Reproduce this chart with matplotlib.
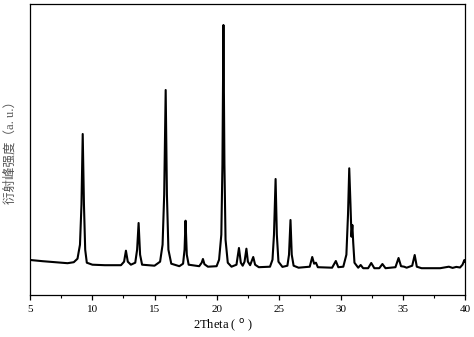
import matplotlib

matplotlib.use("Agg")
import matplotlib.pyplot as plt

# XRD trace, vertices (2theta in degrees, intensity a.u.)
two_theta = [
    5.0, 6.0, 7.0, 8.0, 8.5, 8.8, 9.0, 9.12, 9.22, 9.32, 9.42, 9.55,
    10.0, 11.0, 12.3, 12.55, 12.7, 12.85, 13.1, 13.45, 13.6, 13.72, 13.84,
    14.0, 15.0, 15.45, 15.65, 15.78, 15.9, 16.0, 16.12, 16.35, 17.0, 17.3,
    17.42, 17.5, 17.6, 17.75, 18.6, 18.8, 18.9, 19.02, 19.3, 20.0, 20.2,
    20.38, 20.47, 20.55, 20.63, 20.72, 20.9, 21.2, 21.6, 21.8, 21.95, 22.1,
    22.25, 22.4, 22.52, 22.7, 22.95, 23.1, 23.4, 24.3, 24.5, 24.62, 24.75,
    24.85, 24.98, 25.3, 25.7, 25.83, 25.95, 26.05, 26.2, 26.6, 27.5, 27.7,
    27.85, 28.0, 28.15, 29.3, 29.6, 29.8, 30.2, 30.45, 30.58, 30.68, 30.78,
    30.86, 30.93, 31.0, 31.1, 31.4, 31.6, 31.8, 32.2, 32.45, 32.7, 33.1,
    33.35, 33.6, 34.4, 34.65, 34.85, 35.1, 35.3, 35.75, 35.95, 36.12, 36.5,
    38.0, 38.7, 39.0, 39.3, 39.6, 39.8, 39.95, 40.0,
]
intensity = [
    34.7, 33.5, 32.5, 31.5, 32.5, 36, 50, 90, 160.7, 90, 45, 32,
    30, 29.5, 29.5, 33, 44, 33, 30, 32, 45, 71.7, 40,
    30, 29, 33, 50, 100, 204.7, 100, 45, 31, 28.5, 31,
    45, 74, 40, 30, 28.5, 32, 35.7, 30.5, 28, 28.5, 35,
    60, 130, 269.7, 130, 55, 32, 28, 30, 46.7, 32, 29,
    33, 46, 33, 29.5, 37.7, 30, 27.5, 28, 35, 60, 115.7,
    60, 33, 27.8, 29, 40, 74.7, 40, 29, 27, 28, 37.7,
    31, 32, 27.5, 27, 33.7, 27.5, 28, 40, 80, 126.4, 90,
    58, 69.7, 52, 32, 27, 29.7, 26.5, 26.5, 31.7, 26.5, 26.5,
    30.7, 26.5, 27.5, 36.7, 28.5, 28, 27, 29, 39.7, 28, 26.5,
    26.5, 28, 26.8, 27.8, 27.2, 30, 34.7, 33,
]
x_ticks = [5, 10, 15, 20, 25, 30, 35, 40]

serif = ["Liberation Serif", "DejaVu Serif"]
cjk = ["Liberation Serif", "Noto Sans CJK SC", "DejaVu Sans"]

fig = plt.figure(figsize=(4.74, 3.37), dpi=100)
ax = fig.add_axes([30.3 / 474, 1 - 294.7 / 337, (465 - 30.3) / 474, (294.7 - 4) / 337])

ax.plot(two_theta, intensity, color="black", lw=1.5, solid_joinstyle="round")

ax.set_xlim(5, 40)
ax.set_ylim(0, 290.7)
ax.set_xticks(x_ticks)
ax.set_xticks([7.5, 12.5, 17.5, 22.5, 27.5, 32.5, 37.5], minor=True)
ax.set_yticks([])
ax.tick_params(axis="x", which="major", direction="out", length=3.5, width=0.9,
               labelsize=8, pad=4)
ax.tick_params(axis="x", which="minor", direction="out", length=2.5, width=0.8)
for lab in ax.get_xticklabels():
    lab.set_family(serif)
for sp in ax.spines.values():
    sp.set_linewidth(0.9)

# axis titles sit where the reference has them (x title is left of centre)
fig.text(223 / 474, 1 - 326 / 337, r"2Theta ( $^{\mathrm{o}}$ )", family=serif,
         fontsize=9, ha="center", va="center")
fig.text(10.5 / 474, 1 - 149.5 / 337, "衍射峰强度（a. u.）", family=cjk, fontsize=9,
         color="#555555", rotation=90, ha="center", va="center")

fig.savefig("out.png", dpi=100)
